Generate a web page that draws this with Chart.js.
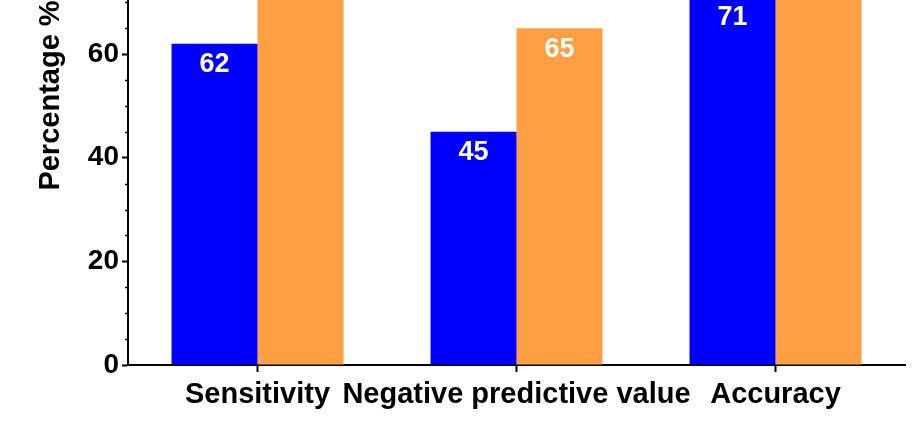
<!DOCTYPE html>
<html>
<head>
<meta charset="utf-8">
<script src="https://cdn.jsdelivr.net/npm/chart.js@4/dist/chart.umd.min.js"></script>
<style>
  html, body { margin: 0; padding: 0; background: #fff; overflow: hidden; }
  #wrap { position: absolute; left: 0; top: -200px; width: 920px; height: 625px; }
</style>
</head>
<body>
<div id="wrap"><canvas id="chart"></canvas></div>
<script>
// --- Data ---
const categories = ['Sensitivity', 'Negative predictive value', 'Accuracy'];
const blueValues = [62, 45, 71];
const orangeValues = [79, 65, 84]; // first and last run above the visible area
const yTicks = [0, 20, 40, 60, 80, 100];
const yMinorStep = 5;

// minor ticks on the y axis (short marks every 5)
const minorTicks = {
    id: 'minorTicks',
    afterDraw(chart) {
        const y = chart.scales.y;
        const ctx = chart.ctx;
        ctx.save();
        ctx.strokeStyle = '#000';
        ctx.lineWidth = 1.5;
        for (let v = 0; v <= y.max; v += yMinorStep) {
            if (yTicks.includes(v)) continue;
            const py = Math.round(y.getPixelForValue(v)) + 0.5;
            ctx.beginPath();
            ctx.moveTo(y.right - 3, py);
            ctx.lineTo(y.right, py);
            ctx.stroke();
        }
        ctx.restore();
    }
};

// value labels inside the top of each bar
const barLabels = {
    id: 'barLabels',
    afterDatasetsDraw(chart) {
        const ctx = chart.ctx;
        ctx.save();
        ctx.fillStyle = '#fff';
        ctx.font = 'bold 27px "Liberation Sans", Arial, sans-serif';
        ctx.textAlign = 'center';
        ctx.textBaseline = 'middle';
        chart.data.datasets.forEach((ds, i) => {
            chart.getDatasetMeta(i).data.forEach((bar, j) => {
                ctx.fillText(ds.data[j], bar.x, bar.y + 21);
            });
        });
        ctx.restore();
    }
};

new Chart(document.getElementById('chart').getContext('2d'), {
    type: 'bar',
    data: {
        labels: categories,
        datasets: [
            { data: blueValues, backgroundColor: '#0000FF', borderWidth: 0 },
            { data: orangeValues, backgroundColor: '#FD9F42', borderWidth: 0 }
        ]
    },
    options: {
        responsive: true,
        maintainAspectRatio: false,
        animation: false,
        layout: { padding: { left: 30, right: 15, top: 26, bottom: 0 } },
        datasets: { bar: { categoryPercentage: 0.664, barPercentage: 1.0 } },
        plugins: { legend: { display: false }, tooltip: { enabled: false } },
        scales: {
            x: {
                grid: { display: true, drawOnChartArea: false, offset: false, tickLength: 7, tickWidth: 2, tickColor: '#000' },
                border: { display: true, color: '#000', width: 2 },
                ticks: {
                    color: '#000',
                    font: { family: '"Liberation Sans", Arial, sans-serif', size: 29, weight: 'bold' },
                    maxRotation: 0, minRotation: 0, autoSkip: false, padding: 6
                },
                afterFit(scale) { scale.height = 60; }
            },
            y: {
                min: 0,
                max: 104,
                grid: { display: true, drawOnChartArea: false, tickLength: 6, tickWidth: 2, tickColor: '#000' },
                border: { display: true, color: '#000', width: 2 },
                ticks: {
                    stepSize: 20,
                    includeBounds: false,
                    color: '#000',
                    padding: 3,
                    font: { family: '"Liberation Sans", Arial, sans-serif', size: 28, weight: 'bold' }
                },
                title: {
                    display: true,
                    text: 'Percentage %',
                    color: '#000',
                    padding: { top: 4, bottom: 0 },
                    font: { family: '"Liberation Sans", Arial, sans-serif', size: 29, weight: 'bold' }
                },
                afterFit(scale) { scale.width = 98; }
            }
        }
    },
    plugins: [minorTicks, barLabels]
});
</script>
</body>
</html>
